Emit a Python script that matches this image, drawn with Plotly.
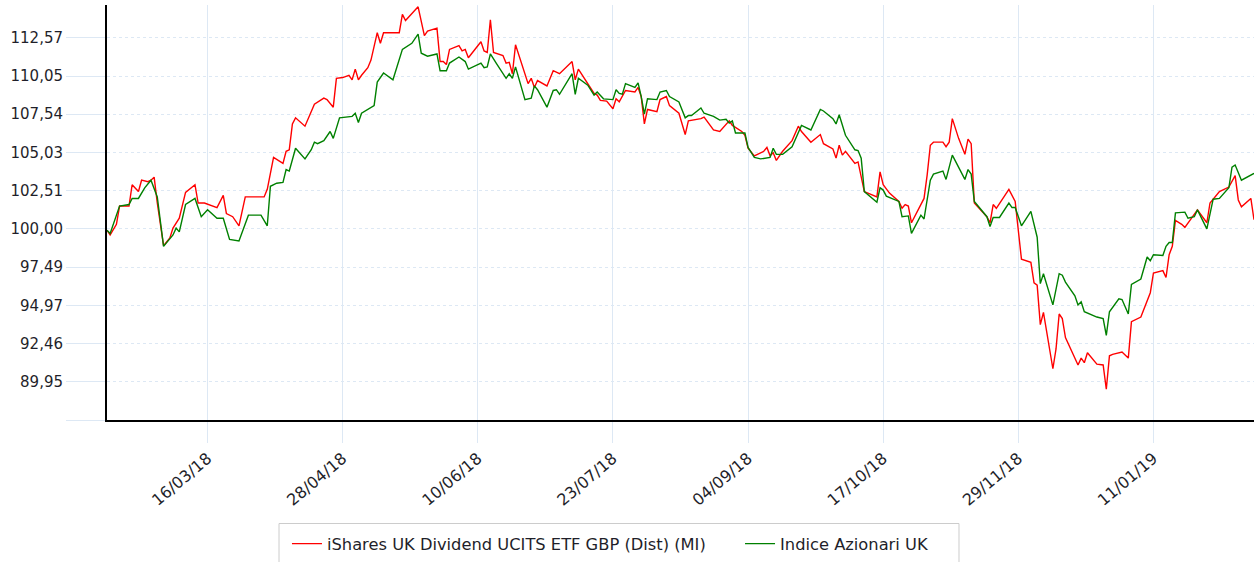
import plotly.graph_objects as go

etf_name = "iShares UK Dividend UCITS ETF GBP (Dist) (MI)"
idx_name = "Indice Azionari UK"

etf_dates = [
    "2018-02-12", "2018-02-13", "2018-02-15", "2018-02-16", "2018-02-19", "2018-02-20", "2018-02-22", "2018-02-23",
    "2018-02-25", "2018-02-26", "2018-02-27", "2018-02-28", "2018-03-02", "2018-03-04", "2018-03-05", "2018-03-07",
    "2018-03-09", "2018-03-12", "2018-03-13", "2018-03-15", "2018-03-19", "2018-03-21", "2018-03-22", "2018-03-24",
    "2018-03-26", "2018-03-28", "2018-03-31", "2018-04-03", "2018-04-04", "2018-04-06", "2018-04-09", "2018-04-10",
    "2018-04-11", "2018-04-12", "2018-04-13", "2018-04-16", "2018-04-19", "2018-04-20", "2018-04-22", "2018-04-23",
    "2018-04-25", "2018-04-26", "2018-04-28", "2018-04-30", "2018-05-01", "2018-05-02", "2018-05-03", "2018-05-04",
    "2018-05-06", "2018-05-07", "2018-05-09", "2018-05-10", "2018-05-11", "2018-05-16", "2018-05-17", "2018-05-18",
    "2018-05-22", "2018-05-24", "2018-05-25", "2018-05-28", "2018-05-29", "2018-05-30", "2018-05-31", "2018-06-01",
    "2018-06-04", "2018-06-05", "2018-06-06", "2018-06-07", "2018-06-11", "2018-06-12", "2018-06-13", "2018-06-14",
    "2018-06-15", "2018-06-18", "2018-06-19", "2018-06-20", "2018-06-21", "2018-06-22", "2018-06-23", "2018-06-26",
    "2018-06-27", "2018-06-28", "2018-06-29", "2018-07-02", "2018-07-04", "2018-07-06", "2018-07-10", "2018-07-11",
    "2018-07-12", "2018-07-17", "2018-07-18", "2018-07-19", "2018-07-21", "2018-07-23", "2018-07-24", "2018-07-25",
    "2018-07-27", "2018-07-30", "2018-07-31", "2018-08-01", "2018-08-02", "2018-08-03", "2018-08-06", "2018-08-07",
    "2018-08-09", "2018-08-10", "2018-08-13", "2018-08-15", "2018-08-16", "2018-08-20", "2018-08-21", "2018-08-24",
    "2018-08-26", "2018-08-28", "2018-08-29", "2018-08-30", "2018-09-02", "2018-09-03", "2018-09-04", "2018-09-06",
    "2018-09-09", "2018-09-10", "2018-09-11", "2018-09-12", "2018-09-13", "2018-09-15", "2018-09-17", "2018-09-18",
    "2018-09-20", "2018-09-21", "2018-09-24", "2018-09-27", "2018-09-28", "2018-10-01", "2018-10-02", "2018-10-03",
    "2018-10-04", "2018-10-05", "2018-10-08", "2018-10-09", "2018-10-11", "2018-10-15", "2018-10-16", "2018-10-17",
    "2018-10-19", "2018-10-22", "2018-10-23", "2018-10-24", "2018-10-25", "2018-10-26", "2018-10-30", "2018-10-31",
    "2018-11-01", "2018-11-02", "2018-11-05", "2018-11-06", "2018-11-07", "2018-11-08", "2018-11-10", "2018-11-12",
    "2018-11-13", "2018-11-14", "2018-11-15", "2018-11-19", "2018-11-20", "2018-11-21", "2018-11-22", "2018-11-26",
    "2018-11-28", "2018-11-29", "2018-11-30", "2018-12-03", "2018-12-04", "2018-12-05", "2018-12-06", "2018-12-07",
    "2018-12-10", "2018-12-11", "2018-12-12", "2018-12-13", "2018-12-14", "2018-12-18", "2018-12-19", "2018-12-20",
    "2018-12-21", "2018-12-24", "2018-12-26", "2018-12-27", "2018-12-28", "2018-12-29", "2019-01-01", "2019-01-03",
    "2019-01-04", "2019-01-07", "2019-01-10", "2019-01-11", "2019-01-14", "2019-01-15", "2019-01-16", "2019-01-17",
    "2019-01-18", "2019-01-20", "2019-01-21", "2019-01-25", "2019-01-28", "2019-01-29", "2019-02-01", "2019-02-04",
    "2019-02-06", "2019-02-07", "2019-02-08", "2019-02-11", "2019-02-12",
]
etf_values = [
    99.9, 99.6, 100.3, 101.5, 101.5, 102.9, 102.45, 103.2,
    103.1, 103.2, 103.4, 101.7, 98.9, 99.4, 100.05, 100.7,
    102.4, 102.9, 101.7, 101.7, 101.4, 102.2, 101.0, 100.8,
    100.2, 102.1, 102.1, 102.1, 102.6, 104.7, 104.3, 105.1,
    105.2, 106.9, 107.3, 106.75, 108.2, 108.35, 108.6, 108.5,
    108.0, 109.9, 109.95, 110.1, 109.8, 110.5, 109.8, 110.1,
    110.6, 111.1, 112.9, 112.2, 112.9, 112.9, 114.1, 113.7,
    114.6, 112.7, 113.0, 113.2, 111.0, 111.0, 110.8, 111.8,
    112.05, 111.7, 111.8, 111.25, 112.3, 111.7, 111.6, 113.75,
    111.6, 111.4, 110.9, 110.95, 110.2, 112.1, 111.5, 109.55,
    109.9, 109.3, 109.75, 109.4, 110.4, 110.2, 111.0, 109.8,
    110.5, 108.9, 108.8, 108.45, 108.4, 107.9, 108.55, 108.35,
    109.1, 109.0, 109.3, 108.7, 106.9, 107.85, 107.7, 108.5,
    108.7, 108.1, 107.6, 106.2, 107.1, 107.25, 107.35, 106.5,
    106.4, 106.9, 107.1, 106.8, 106.4, 106.15, 105.3, 104.8,
    105.1, 105.35, 104.8, 105.0, 104.5, 105.1, 105.6, 105.8,
    106.75, 106.4, 105.7, 106.2, 105.6, 105.25, 104.65, 105.5,
    104.85, 105.1, 104.3, 104.4, 102.45, 102.1, 103.75, 102.9,
    102.35, 101.8, 101.35, 101.6, 101.5, 100.4, 102.0, 103.55,
    105.5, 105.7, 105.7, 105.4, 105.7, 107.25, 105.95, 104.9,
    105.9, 105.6, 101.7, 100.8, 100.4, 101.6, 101.35, 102.6,
    101.8, 99.7, 98.0, 97.8, 96.45, 96.3, 93.7, 94.5,
    90.8, 92.1, 94.4, 94.1, 92.85, 91.05, 91.5, 91.2,
    91.85, 91.1, 91.05, 89.45, 91.65, 91.75, 91.9, 91.5,
    93.9, 94.2, 95.8, 97.1, 97.25, 96.8, 98.3, 98.85,
    100.55, 100.3, 100.1, 101.25, 100.4, 101.7, 102.45, 102.75,
    103.5, 101.9, 101.45, 102.0, 100.6,
]

idx_dates = [
    "2018-02-12", "2018-02-13", "2018-02-16", "2018-02-19", "2018-02-20", "2018-02-22", "2018-02-24", "2018-02-26",
    "2018-02-28", "2018-03-02", "2018-03-05", "2018-03-06", "2018-03-07", "2018-03-09", "2018-03-12", "2018-03-14",
    "2018-03-16", "2018-03-19", "2018-03-21", "2018-03-23", "2018-03-26", "2018-03-29", "2018-04-02", "2018-04-04",
    "2018-04-05", "2018-04-07", "2018-04-09", "2018-04-10", "2018-04-11", "2018-04-13", "2018-04-16", "2018-04-18",
    "2018-04-19", "2018-04-20", "2018-04-22", "2018-04-24", "2018-04-25", "2018-04-27", "2018-05-01", "2018-05-02",
    "2018-05-03", "2018-05-04", "2018-05-08", "2018-05-09", "2018-05-11", "2018-05-14", "2018-05-17", "2018-05-20",
    "2018-05-22", "2018-05-23", "2018-05-25", "2018-05-28", "2018-05-29", "2018-05-31", "2018-06-01", "2018-06-04",
    "2018-06-06", "2018-06-07", "2018-06-11", "2018-06-12", "2018-06-13", "2018-06-14", "2018-06-16", "2018-06-19",
    "2018-06-20", "2018-06-21", "2018-06-22", "2018-06-25", "2018-06-27", "2018-06-28", "2018-06-29", "2018-07-02",
    "2018-07-04", "2018-07-05", "2018-07-06", "2018-07-10", "2018-07-11", "2018-07-12", "2018-07-15", "2018-07-17",
    "2018-07-18", "2018-07-19", "2018-07-20", "2018-07-23", "2018-07-24", "2018-07-25", "2018-07-26", "2018-07-27",
    "2018-07-30", "2018-07-31", "2018-08-01", "2018-08-02", "2018-08-03", "2018-08-06", "2018-08-07", "2018-08-09",
    "2018-08-10", "2018-08-13", "2018-08-15", "2018-08-16", "2018-08-17", "2018-08-20", "2018-08-21", "2018-08-24",
    "2018-08-26", "2018-08-28", "2018-08-29", "2018-08-30", "2018-08-31", "2018-09-03", "2018-09-04", "2018-09-06",
    "2018-09-08", "2018-09-11", "2018-09-12", "2018-09-13", "2018-09-15", "2018-09-18", "2018-09-21", "2018-09-24",
    "2018-09-27", "2018-09-28", "2018-10-01", "2018-10-02", "2018-10-03", "2018-10-05", "2018-10-08", "2018-10-09",
    "2018-10-10", "2018-10-11", "2018-10-15", "2018-10-16", "2018-10-17", "2018-10-18", "2018-10-22", "2018-10-23",
    "2018-10-25", "2018-10-26", "2018-10-29", "2018-10-30", "2018-11-01", "2018-11-02", "2018-11-05", "2018-11-06",
    "2018-11-08", "2018-11-12", "2018-11-13", "2018-11-14", "2018-11-15", "2018-11-19", "2018-11-20", "2018-11-21",
    "2018-11-23", "2018-11-26", "2018-11-27", "2018-11-28", "2018-11-30", "2018-12-03", "2018-12-05", "2018-12-06",
    "2018-12-07", "2018-12-10", "2018-12-12", "2018-12-13", "2018-12-14", "2018-12-17", "2018-12-18", "2018-12-19",
    "2018-12-20", "2018-12-24", "2018-12-26", "2018-12-27", "2018-12-28", "2018-12-31", "2019-01-01", "2019-01-03",
    "2019-01-04", "2019-01-07", "2019-01-09", "2019-01-10", "2019-01-11", "2019-01-14", "2019-01-15", "2019-01-16",
    "2019-01-17", "2019-01-18", "2019-01-21", "2019-01-22", "2019-01-24", "2019-01-25", "2019-01-28", "2019-01-30",
    "2019-02-01", "2019-02-04", "2019-02-05", "2019-02-06", "2019-02-08", "2019-02-12",
]
idx_values = [
    99.9, 99.7, 101.5, 101.6, 102.0, 102.0, 102.7, 103.2,
    102.1, 98.85, 99.6, 100.05, 99.8, 101.6, 102.0, 100.8,
    101.25, 100.7, 100.7, 99.3, 99.2, 100.9, 100.9, 100.2,
    102.8, 103.0, 103.05, 103.9, 103.8, 105.3, 104.6, 105.2,
    105.7, 105.6, 105.8, 106.4, 105.95, 107.3, 107.4, 107.6,
    107.0, 107.6, 108.1, 109.65, 110.25, 109.8, 111.8, 112.2,
    112.8, 111.55, 111.35, 111.5, 110.4, 110.4, 110.9, 111.3,
    111.0, 110.5, 110.9, 110.6, 110.65, 111.5, 110.85, 109.9,
    110.2, 109.9, 110.65, 108.5, 108.6, 109.4, 109.15, 108.0,
    109.1, 109.15, 108.85, 110.2, 108.85, 109.9, 109.45, 108.8,
    109.0, 108.8, 108.55, 108.5, 109.15, 108.9, 108.85, 109.55,
    109.3, 109.6, 108.7, 107.55, 108.55, 108.5, 109.0, 109.1,
    108.7, 108.35, 107.3, 107.45, 107.45, 107.95, 107.6, 107.4,
    107.15, 107.2, 106.95, 107.1, 106.3, 106.3, 105.35, 104.7,
    104.6, 104.7, 105.3, 104.9, 104.9, 105.4, 106.8, 106.5,
    107.85, 107.75, 107.25, 106.9, 107.5, 106.15, 105.2, 105.15,
    104.65, 102.45, 101.75, 102.7, 102.55, 102.15, 101.8, 100.8,
    100.85, 99.7, 100.9, 100.65, 103.2, 103.6, 103.8, 103.25,
    104.85, 103.25, 103.9, 103.6, 101.8, 100.8, 100.15, 100.75,
    100.75, 101.7, 101.4, 101.4, 100.2, 101.15, 99.45, 96.4,
    97.05, 95.0, 97.05, 96.95, 96.5, 95.6, 95.0, 95.2,
    94.55, 94.2, 94.1, 93.0, 94.55, 95.4, 95.35, 94.4,
    96.35, 96.7, 98.15, 97.9, 98.3, 98.25, 98.85, 99.1,
    99.1, 101.05, 101.1, 100.7, 100.8, 101.25, 100.0, 101.95,
    102.0, 102.7, 104.05, 104.2, 103.2, 103.65,
]

y_tick_values = [87.43, 89.95, 92.46, 94.97, 97.49, 100.00, 102.51, 105.03, 107.54, 110.05, 112.57]
y_tick_labels = ["", "89,95", "92,46", "94,97", "97,49", "100,00", "102,51", "105,03", "107,54", "110,05", "112,57"]

x_tick_values = ["2018-03-16", "2018-04-28", "2018-06-10", "2018-07-23", "2018-09-04", "2018-10-17", "2018-11-29", "2019-01-11"]
x_tick_labels = ["16/03/18", "28/04/18", "10/06/18", "23/07/18", "04/09/18", "17/10/18", "29/11/18", "11/01/19"]

FONT = "DejaVu Sans, Verdana, sans-serif"
TXT = "#1f1f2a"
GRID = "#dde8f4"

fig = go.Figure()
fig.add_trace(go.Scatter(x=etf_dates, y=etf_values, mode="lines", name=etf_name,
                         line=dict(color="#ff0000", width=1.4), legend="legend"))
fig.add_trace(go.Scatter(x=idx_dates, y=idx_values, mode="lines", name=idx_name,
                         line=dict(color="#008000", width=1.4), legend="legend2"))

legend_font = dict(family=FONT, size=16.3, color=TXT)

fig.update_layout(
    width=1254, height=562,
    margin=dict(l=107, r=0, t=5, b=140),
    paper_bgcolor="white", plot_bgcolor="white",
    font=dict(family=FONT, size=15, color=TXT),
    showlegend=True,
    legend=dict(orientation="h", x=0.1569, xanchor="left", y=-0.2566, yanchor="top",
                borderwidth=0, bgcolor="rgba(0,0,0,0)", font=legend_font, itemwidth=30),
    legend2=dict(orientation="h", x=0.5519, xanchor="left", y=-0.2566, yanchor="top",
                 borderwidth=0, bgcolor="rgba(0,0,0,0)", font=legend_font, itemwidth=30),
    shapes=[dict(type="rect", xref="paper", yref="paper", x0=0.14996, x1=0.7428,
                 y0=-0.2494, y1=-0.45, line=dict(color="#cccccc", width=1),
                 fillcolor="rgba(0,0,0,0)", layer="below")],
    xaxis=dict(
        type="date", range=["2018-02-12", "2019-02-12"],
        tickmode="array", tickvals=x_tick_values, ticktext=x_tick_labels,
        tickangle=-40, ticks="outside", ticklen=21, tickcolor=GRID, tickwidth=1,
        showgrid=True, gridcolor=GRID, gridwidth=1,
        showline=True, linecolor="black", linewidth=2,
        zeroline=False, tickfont=dict(family=FONT, size=16, color=TXT),
    ),
    yaxis=dict(
        range=[87.43, 114.72],
        tickmode="array", tickvals=y_tick_values, ticktext=y_tick_labels,
        ticks="outside", ticklen=39, tickcolor=GRID, tickwidth=1,
        showgrid=True, gridcolor=GRID, gridwidth=1, griddash="dot",
        showline=True, linecolor="black", linewidth=2,
        zeroline=False, tickfont=dict(family=FONT, size=15, color=TXT),
    ),
)

fig.write_html("out.html", config={"displayModeBar": False},
               post_script="document.body.style.margin='0';document.body.style.overflow='hidden';")
